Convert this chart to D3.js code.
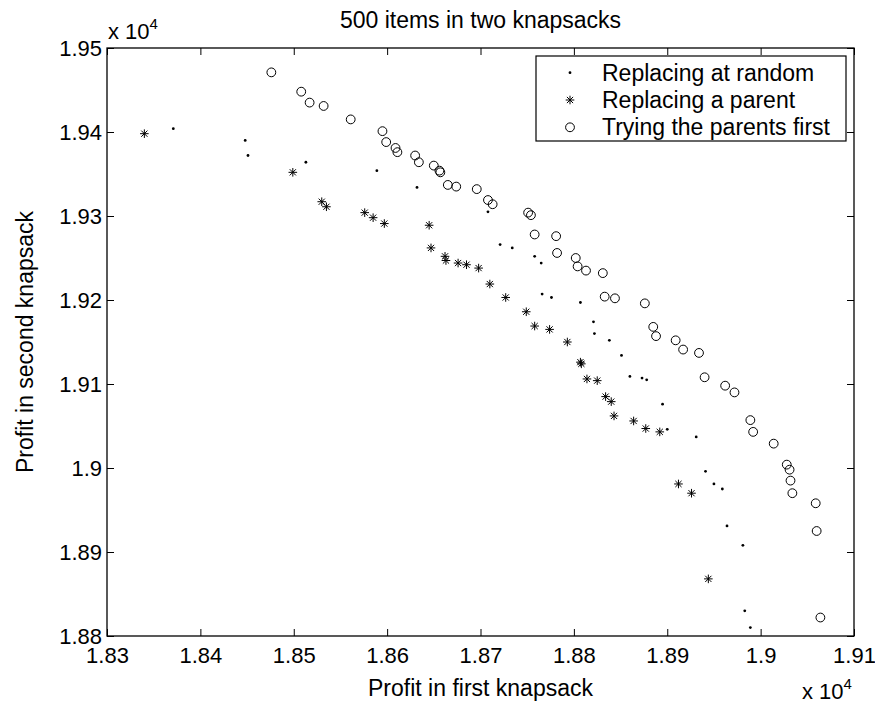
<!DOCTYPE html>
<html>
<head>
<meta charset="utf-8">
<script src="https://cdn.jsdelivr.net/npm/d3@7"></script>
<style>
  body { margin: 0; background: #fff; }
  text { font-family: "Liberation Sans", Arial, Helvetica, sans-serif; fill: #000; }
</style>
</head>
<body>
<svg class="chart" width="875" height="705"></svg>
<script>
// profits (x: first knapsack, y: second knapsack)
var randomX = [18371, 18448, 18451, 18513, 18589, 18632, 18708, 18721, 18734, 18758, 18765, 18766, 18776, 18807, 18821, 18822, 18838, 18851, 18860, 18873, 18878, 18895, 18900, 18931, 18941, 18950, 18959, 18964, 18981, 18983, 18989];
var randomY = [19404, 19390, 19372, 19364, 19354, 19334, 19305, 19266, 19262, 19252, 19244, 19207, 19203, 19197, 19174, 19160, 19152, 19134, 19109, 19107, 19105, 19076, 19046, 19037, 18996, 18981, 18975, 18931, 18908, 18830, 18810];

var parentX = [18340, 18499, 18530, 18535, 18576, 18585, 18597, 18645, 18647, 18662, 18663, 18676, 18685, 18698, 18710, 18727, 18749, 18758, 18774, 18793, 18807, 18808, 18814, 18825, 18834, 18840, 18843, 18864, 18877, 18892, 18912, 18926, 18944];
var parentY = [19398, 19352, 19317, 19311, 19304, 19298, 19291, 19289, 19262, 19252, 19247, 19244, 19242, 19238, 19219, 19203, 19186, 19169, 19165, 19150, 19126, 19124, 19106, 19104, 19085, 19079, 19062, 19056, 19047, 19043, 18981, 18970, 18868];

var firstX = [18476, 18508, 18517, 18532, 18561, 18595, 18599, 18609, 18611, 18630, 18634, 18650, 18656, 18657, 18665, 18674, 18696, 18708, 18713, 18751, 18754, 18758, 18781, 18782, 18802, 18804, 18813, 18831, 18833, 18844, 18876, 18885, 18888, 18909, 18917, 18934, 18940, 18962, 18972, 18989, 18992, 19014, 19028, 19031, 19032, 19034, 19059, 19060, 19064];
var firstY = [19471, 19448, 19435, 19431, 19415, 19401, 19388, 19381, 19376, 19372, 19364, 19360, 19354, 19352, 19337, 19335, 19332, 19319, 19314, 19304, 19301, 19278, 19276, 19256, 19250, 19240, 19235, 19232, 19204, 19202, 19196, 19168, 19157, 19152, 19141, 19137, 19108, 19098, 19090, 19057, 19043, 19029, 19004, 18998, 18985, 18970, 18958, 18925, 18822];

var xTicks = [18300, 18400, 18500, 18600, 18700, 18800, 18900, 19000, 19100];
var yTicks = [18800, 18900, 19000, 19100, 19200, 19300, 19400, 19500];
var seriesNames = ["Replacing at random", "Replacing a parent", "Trying the parents first"];

var svg = d3.select(".chart");
var box = {left: 107, right: 854, top: 48, bottom: 636};
var tickFont = 22, labelFont = 23;

var xScale = d3.scaleLinear().domain([18300, 19100]).range([box.left, box.right]);
var yScale = d3.scaleLinear().domain([18800, 19500]).range([box.bottom, box.top]);
var fmt = function (d) { return String(+(d / 1e4).toFixed(2)); };

function pairs(xs, ys) {
    return xs.map(function (x, i) { return {x: x, y: ys[i]}; });
}

// axes with inward ticks on all four sides
svg.append("g")
    .attr("transform", "translate(0," + box.bottom + ")")
    .call(d3.axisBottom(xScale).tickValues(xTicks).tickSize(-7).tickSizeOuter(0).tickPadding(11).tickFormat(fmt));
svg.append("g")
    .attr("transform", "translate(0," + box.top + ")")
    .call(d3.axisTop(xScale).tickValues(xTicks).tickSize(-7).tickSizeOuter(0).tickFormat(""));
svg.append("g")
    .attr("transform", "translate(" + box.left + ",0)")
    .call(d3.axisLeft(yScale).tickValues(yTicks).tickSize(-7).tickSizeOuter(0).tickPadding(5).tickFormat(fmt));
svg.append("g")
    .attr("transform", "translate(" + box.right + ",0)")
    .call(d3.axisRight(yScale).tickValues(yTicks).tickSize(-7).tickSizeOuter(0).tickFormat(""));

svg.selectAll(".domain").remove();
svg.selectAll(".tick line").attr("stroke", "#000").attr("stroke-width", 1);
svg.selectAll(".tick text").style("font-size", tickFont + "px")
    .style("font-family", "'Liberation Sans', Arial, sans-serif");

svg.append("rect")
    .attr("x", box.left).attr("y", box.top)
    .attr("width", box.right - box.left).attr("height", box.bottom - box.top)
    .attr("fill", "none").attr("stroke", "#000").attr("stroke-width", 1.3);

// markers
function starPath(r) {
    var d = r * 0.72;
    return "M" + (-r) + ",0L" + r + ",0M0," + (-r) + "L0," + r +
        "M" + (-d) + "," + (-d) + "L" + d + "," + d + "M" + (-d) + "," + d + "L" + d + "," + (-d);
}

var plot = svg.append("g");

plot.selectAll(".dot")
    .data(pairs(randomX, randomY))
    .enter().append("circle")
    .attr("class", "dot")
    .attr("cx", function (d) { return xScale(d.x); })
    .attr("cy", function (d) { return yScale(d.y); })
    .attr("r", 1.4)
    .attr("fill", "#000");

plot.selectAll(".star")
    .data(pairs(parentX, parentY))
    .enter().append("path")
    .attr("class", "star")
    .attr("transform", function (d) { return "translate(" + xScale(d.x) + "," + yScale(d.y) + ")"; })
    .attr("d", starPath(4.3))
    .attr("fill", "none").attr("stroke", "#000").attr("stroke-width", 1);

plot.selectAll(".ring")
    .data(pairs(firstX, firstY))
    .enter().append("circle")
    .attr("class", "ring")
    .attr("cx", function (d) { return xScale(d.x); })
    .attr("cy", function (d) { return yScale(d.y); })
    .attr("r", 4.4)
    .attr("fill", "none").attr("stroke", "#000").attr("stroke-width", 1);

// legend
var legend = svg.append("g");
legend.append("rect")
    .attr("x", 536).attr("y", 56).attr("width", 310).attr("height", 85)
    .attr("fill", "#fff").attr("stroke", "#000").attr("stroke-width", 1.2);

var rows = legend.selectAll(".row")
    .data(seriesNames)
    .enter().append("g")
    .attr("class", "row")
    .attr("transform", function (d, i) { return "translate(570," + (72.7 + i * 27.3) + ")"; });

rows.append("text")
    .attr("x", 32).attr("dy", "0.35em")
    .style("font-size", labelFont + "px")
    .text(function (d) { return d; });

rows.filter(function (d, i) { return i === 0; }).append("circle").attr("r", 1.4).attr("fill", "#000");
rows.filter(function (d, i) { return i === 1; }).append("path").attr("d", starPath(4.3))
    .attr("fill", "none").attr("stroke", "#000");
rows.filter(function (d, i) { return i === 2; }).append("circle").attr("r", 4.4)
    .attr("fill", "none").attr("stroke", "#000");

// titles
svg.append("text")
    .attr("x", (box.left + box.right) / 2).attr("y", 28)
    .attr("text-anchor", "middle").style("font-size", labelFont + "px")
    .text("500 items in two knapsacks");

svg.append("text")
    .attr("x", (box.left + box.right) / 2).attr("y", 696)
    .attr("text-anchor", "middle").style("font-size", labelFont + "px")
    .text("Profit in first knapsack");

svg.append("text")
    .attr("transform", "translate(33," + ((box.top + box.bottom) / 2) + ") rotate(-90)")
    .attr("text-anchor", "middle").style("font-size", labelFont + "px")
    .text("Profit in second knapsack");

// exponent labels
function exponent(x, y) {
    var t = svg.append("text").attr("x", x).attr("y", y).style("font-size", tickFont + "px");
    t.append("tspan").text("x 10");
    t.append("tspan").attr("dy", -10).style("font-size", "15px").text("4");
}
exponent(108, 39);
exponent(802, 699);
</script>
</body>
</html>
